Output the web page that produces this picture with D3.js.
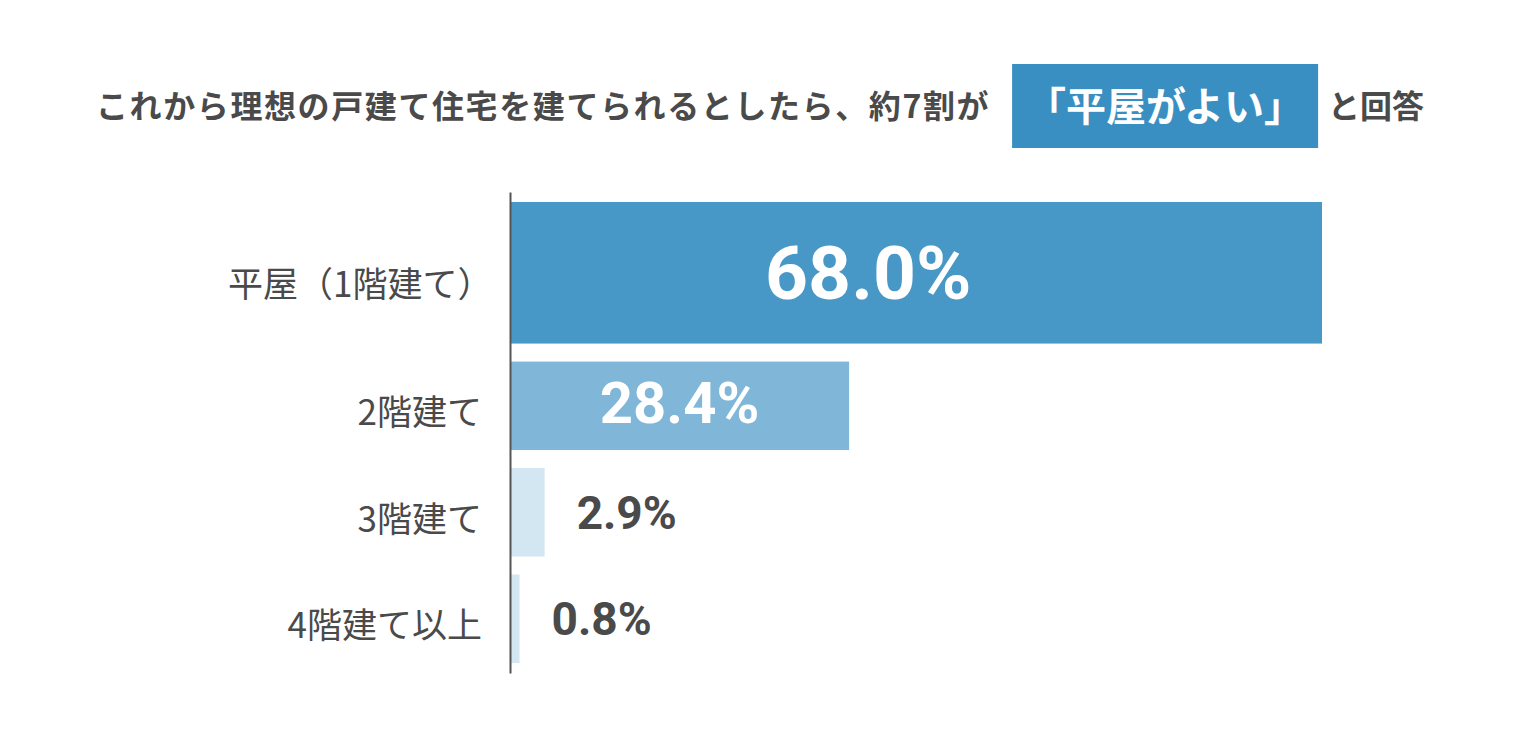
<html>
<head>
<meta charset="utf-8">
<script src="https://cdn.jsdelivr.net/npm/d3@7"></script>
<style>
  body { margin: 0; background: #fff; }
  svg { font-family: "Noto Sans CJK JP", "Noto Sans", sans-serif; }
</style>
</head>
<body>
<svg id="chart" width="1520" height="740"></svg>
<script>
// data
var categories = ["平屋（1階建て）", "2階建て", "3階建て", "4階建て以上"];
var values = [68.0, 28.4, 2.9, 0.8];
var titleLead = "これから理想の戸建て住宅を建てられるとしたら、約7割が";
var titleHighlight = "「平屋がよい」";
var titleTail = "と回答";

var barColors = ["#4898c7", "#80b7d8", "#d3e7f2", "#d3e7f2"];
var textColor = "#4a4a4a";

var svg = d3.select("#chart");

// title
var lead = svg.append("text")
    .attr("x", 96)
    .attr("y", 118)
    .attr("font-size", 32)
    .attr("font-weight", 700)
    .attr("letter-spacing", 1.6)
    .attr("fill", textColor)
    .text(titleLead);

var leadEnd = 96 + lead.node().getComputedTextLength();
var boxX = leadEnd + 22, boxW = 306;

svg.append("rect")
    .attr("x", boxX)
    .attr("y", 64)
    .attr("width", boxW)
    .attr("height", 84)
    .attr("fill", "#3a8fc2");

svg.append("text")
    .attr("x", boxX + boxW / 2)
    .attr("y", 121)
    .attr("text-anchor", "middle")
    .attr("font-size", 40)
    .attr("font-weight", 700)
    .attr("fill", "#fff")
    .text(titleHighlight);

svg.append("text")
    .attr("x", boxX + boxW + 10)
    .attr("y", 118)
    .attr("font-size", 32)
    .attr("font-weight", 700)
    .attr("fill", textColor)
    .text(titleTail);

// scales
var x = d3.scaleLinear()
    .domain([0, 68])
    .range([510, 1322]);

// top row is drawn taller than the rest
var units = categories.map(function (d, i) { return i === 0 ? 1.6 : 1; });
var starts = [0].concat(Array.from(d3.cumsum(units)));
var gap = 18;
var plotTop = 202, plotBottom = 663;
var u = d3.scaleLinear()
    .domain([0, d3.sum(units)])
    .range([plotTop, plotBottom - gap * (categories.length - 1)]);

function yTop(i) { return u(starts[i]) + i * gap; }
function yH(i) { return u(starts[i + 1]) - u(starts[i]); }
function yMid(i) { return yTop(i) + yH(i) / 2; }

var rows = categories.map(function (c, i) { return { cat: c, value: values[i], i: i }; });

// bars
svg.append("g").selectAll("rect")
    .data(rows)
    .enter()
    .append("rect")
    .attr("x", x(0))
    .attr("y", (d) => yTop(d.i))
    .attr("width", (d) => x(d.value) - x(0))
    .attr("height", (d) => yH(d.i))
    .attr("fill", (d) => barColors[d.i]);

// axis line
var yAxisScale = d3.scaleLinear().range([192, 673]);
svg.append("g")
    .attr("transform", "translate(" + x(0) + ",0)")
    .call(d3.axisLeft(yAxisScale).tickValues([]).tickSizeOuter(0))
    .select(".domain")
    .attr("stroke", "#555")
    .attr("stroke-width", 2);

// category labels (closing full-width paren keeps no trailing space)
svg.append("g").selectAll("text")
    .data(rows)
    .enter()
    .append("text")
    .attr("x", 482)
    .attr("dx", (d) => d.cat.endsWith("）") ? "0.3em" : 0)
    .attr("y", (d) => yMid(d.i) + (d.i === 0 ? 9 : 4))
    .attr("text-anchor", "end")
    .attr("dominant-baseline", "central")
    .style("font-family", "'Noto Sans CJK JP', sans-serif")
    .attr("font-size", 35)
    .attr("fill", textColor)
    .text((d) => d.cat);

// value labels
function labelSize(d) {
    if (d.value > 50) return 75;
    if (d.value > 10) return 58;
    return 46;
}

svg.append("g").selectAll("text")
    .data(rows)
    .enter()
    .append("text")
    .attr("x", (d) => d.value > 10 ? x(Math.min(d.value / 2, 30)) : x(d.value) + 32)
    .attr("y", (d) => yMid(d.i) + labelSize(d) * 0.355 - (d.i === 1 ? 3 : 0))
    .attr("text-anchor", (d) => d.value > 10 ? "middle" : "start")
    .style("font-family", "Roboto, 'DejaVu Sans', sans-serif")
    .attr("font-size", labelSize)
    .attr("font-weight", 700)
    .attr("fill", (d) => d.value > 10 ? "#fff" : textColor)
    .text((d) => d.value.toFixed(1) + "%");
</script>
</body>
</html>
